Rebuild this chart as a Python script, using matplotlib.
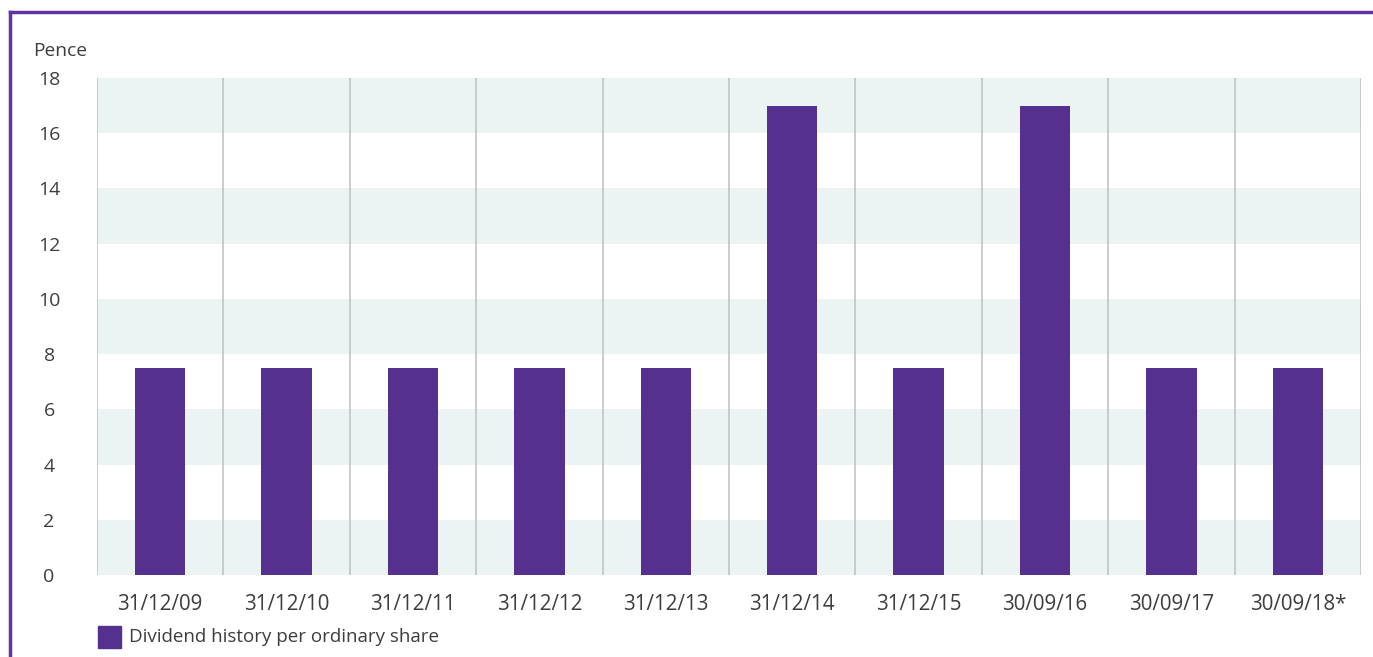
import matplotlib
matplotlib.use("Agg")
import matplotlib.pyplot as plt
from matplotlib.lines import Line2D
from matplotlib.patches import Rectangle

categories = ["31/12/09", "31/12/10", "31/12/11", "31/12/12", "31/12/13",
              "31/12/14", "31/12/15", "30/09/16", "30/09/17", "30/09/18*"]
dividends = [7.5, 7.5, 7.5, 7.5, 7.5, 17.0, 7.5, 17.0, 7.5, 7.5]
yticks = [0, 2, 4, 6, 8, 10, 12, 14, 16, 18]
series_label = "Dividend history per ordinary share"

BAR = "#55308f"
TEXT = "#3d3d3d"
BAND = "#ebf4f3"
SEP = "#c3c3c3"

plt.rcParams['font.family'] = ['Open Sans', 'DejaVu Sans']

W, H = 1373, 657
fig = plt.figure(figsize=(W / 100, H / 100), dpi=100)
x0, x1, y0, y1 = 97, 1361, 78, 575
ax = fig.add_axes([x0 / W, 1 - y1 / H, (x1 - x0) / W, (y1 - y0) / H])

n = len(categories)
ax.set_xlim(-0.5, n - 0.5)
ax.set_ylim(0, 18)

# alternating bands
for lo in range(0, 18, 4):
    ax.axhspan(lo, lo + 2, color=BAND, lw=0, zorder=0)

# vertical separators
for i in range(n + 1):
    ax.axvline(i - 0.5, color=SEP, lw=1.2, zorder=1)

ax.bar(range(n), dividends, width=0.4, color=BAR, zorder=2)

ax.set_xticks(range(n))
ax.set_xticklabels(categories, fontsize=14.8, color=TEXT)
ax.set_yticks(yticks)
ax.set_yticklabels([str(v) for v in yticks], fontsize=14, color=TEXT, ha='center')
ax.tick_params(axis='both', length=0)
ax.tick_params(axis='x', pad=14)
ax.tick_params(axis='y', pad=34.5)
for s in ax.spines.values():
    s.set_visible(False)

fig.text(33 / W, 1 - 51 / H, "Pence", fontsize=13.8, color=TEXT, va='center', ha='left')

# legend
fig.patches.append(Rectangle((98 / W, 1 - 648 / H), 23 / W, 22 / H,
                             transform=fig.transFigure, color=BAR, figure=fig))
fig.text(129 / W, 1 - 637 / H, series_label, fontsize=13.5, color=TEXT, va='center', ha='left')

# purple frame (top and left edges)
fig.add_artist(Line2D([10 / W, 1.0], [1 - 12 / H, 1 - 12 / H], color="#5e35a0", lw=2.5,
                      transform=fig.transFigure))
fig.add_artist(Line2D([10 / W, 10 / W], [1 - 12 / H, 0], color="#5e35a0", lw=2.5,
                      transform=fig.transFigure))

fig.savefig("out.png", dpi=100)
